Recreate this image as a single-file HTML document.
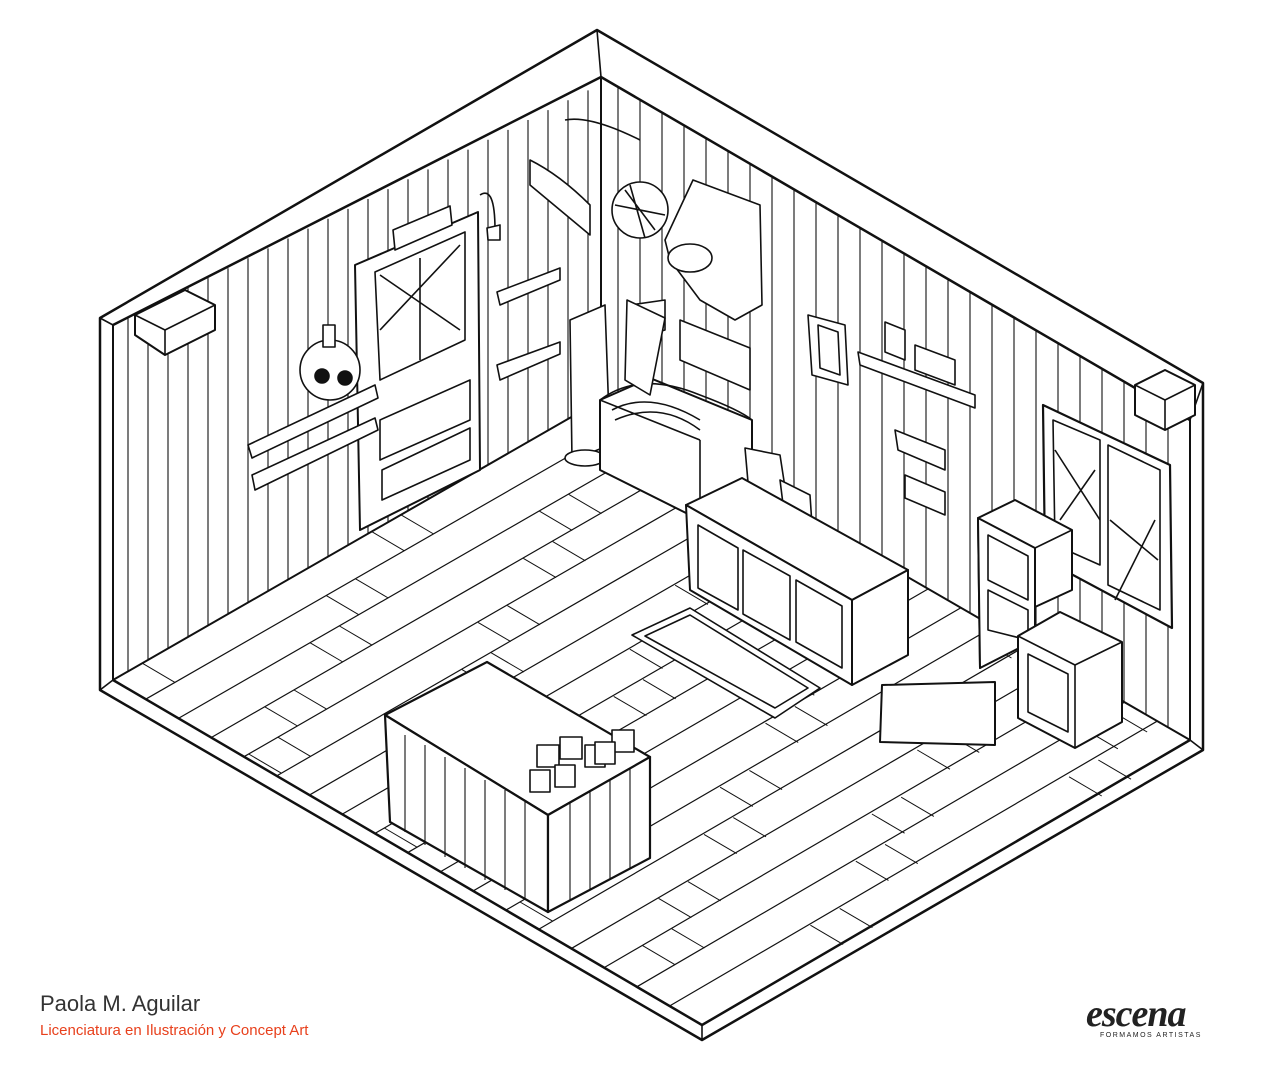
<!DOCTYPE html>
<html><head><meta charset="utf-8"><style>
html,body{margin:0;padding:0;background:#fff;width:1273px;height:1080px;overflow:hidden}
svg{position:absolute;left:0;top:0}
.t1{position:absolute;left:40px;top:991px;font:22px "Liberation Sans",sans-serif;color:#333}
.t2{position:absolute;left:40px;top:1022px;font:15px "Liberation Sans",sans-serif;color:#e8401c}
.lg{position:absolute;left:1086px;top:992px;font:italic bold 38px "Liberation Serif",serif;color:#222;letter-spacing:-1px}
.lg2{position:absolute;left:1100px;top:1032px;font:7px "Liberation Sans",sans-serif;color:#222;letter-spacing:1.5px}
</style></head><body>
<svg width="1273" height="1080" viewBox="0 0 1273 1080" fill="none" stroke="#111" stroke-width="1.6" stroke-linejoin="round">
<g id="planks" stroke-width="1.2"></g>
<polygon points="100,318 597,30 1203,383 1203,750 702,1040 100,690" fill="none" stroke-width="2.5"/>
<polyline points="113,680 702,1025 1190,740" stroke-width="2.5"/>
<polyline points="113,325 601,77 1190,420" stroke-width="2.5"/>
<line x1="113" y1="325" x2="113" y2="680" stroke-width="2"/>
<line x1="1190" y1="420" x2="1190" y2="740" stroke-width="2"/>
<line x1="702" y1="1025" x2="702" y2="1040"/>
<line x1="100" y1="318" x2="113" y2="325"/><line x1="597" y1="30" x2="601" y2="77"/><line x1="1203" y1="383" x2="1190" y2="420"/>
<line x1="100" y1="690" x2="113" y2="680"/><line x1="1203" y1="750" x2="1190" y2="740"/>
<line x1="601" y1="77" x2="601" y2="400" stroke-width="2"/>
<polyline points="113,680 601,400 1190,740" stroke-width="2"/>
<!-- beams (short stubs) -->
<polygon points="135,315 185,290 215,305 215,330 165,355 135,335" fill="#fff" stroke-width="2"/>
<line x1="165" y1="330" x2="215" y2="305"/><line x1="135" y1="315" x2="165" y2="330"/><line x1="165" y1="330" x2="165" y2="355"/>
<polygon points="1135,385 1165,370 1195,385 1195,415 1165,430 1135,415" fill="#fff" stroke-width="2"/>
<line x1="1135" y1="385" x2="1165" y2="400"/><line x1="1165" y1="400" x2="1195" y2="385"/><line x1="1165" y1="400" x2="1165" y2="430"/>
<!-- door -->
<polygon points="355,265 478,212 480,470 360,530" fill="#fff" stroke-width="2"/>
<polygon points="375,272 465,232 465,340 380,380" fill="#fff"/>
<path d="M380,275 L460,330 M380,330 L460,245 M420,258 L420,360"/>
<polygon points="380,420 470,380 470,420 380,460"/><polygon points="382,470 470,428 470,460 382,500"/>
<polygon points="393,230 450,206 452,225 395,250" fill="#fff"/>
<!-- skull shelf -->
<polygon points="248,445 375,385 378,398 252,458" fill="#fff"/>
<polygon points="252,475 375,418 378,430 255,490" fill="#fff"/>
<circle cx="330" cy="370" r="30" fill="#fff"/><circle cx="322" cy="376" r="7" fill="#111"/><circle cx="345" cy="378" r="7" fill="#111"/>
<rect x="323" y="325" width="12" height="22" fill="#fff"/>
<polygon points="497,292 560,268 560,280 500,305" fill="#fff"/>
<polygon points="497,365 560,342 560,354 500,380" fill="#fff"/>
<polygon points="570,320 605,305 610,445 572,460" fill="#fff"/>
<ellipse cx="585" cy="458" rx="20" ry="8" fill="#fff"/>
<circle cx="640" cy="210" r="28" fill="#fff"/>
<path d="M625 190 L655 230 M615 205 L665 215 M630 185 L645 238"/>
<polygon points="693,180 760,205 762,305 735,320 700,300 670,260 665,240" fill="#fff"/>
<ellipse cx="690" cy="258" rx="22" ry="14" fill="#fff"/>
<polygon points="680,320 750,348 750,390 680,360" fill="#fff"/>
<polygon points="630,305 665,300 665,330 628,340" fill="#fff"/>
<polygon points="808,315 845,325 848,385 812,375" fill="#fff"/>
<polygon points="818,325 838,332 840,375 820,368" />
<polygon points="858,352 975,395 975,408 860,365" fill="#fff"/>
<polygon points="915,345 955,360 955,385 915,370" fill="#fff"/>
<polygon points="885,322 905,330 905,360 885,352" fill="#fff"/>
<polygon points="895,430 945,450 945,470 898,450" fill="#fff"/>
<polygon points="905,475 945,492 945,515 905,498" fill="#fff"/>
<polygon points="1043,405 1170,465 1172,628 1045,560" fill="#fff" stroke-width="2.2"/>
<polygon points="1053,420 1100,440 1100,565 1055,545"/><polygon points="1108,445 1160,470 1160,610 1108,585"/>
<path d="M1055,450 L1100,520 M1110,520 L1158,560 M1060,520 L1095,470 M1115,600 L1155,520"/>
<polygon points="600,400 650,378 752,420 752,500 700,520 600,470" fill="#fff" stroke-width="2"/>
<path d="M600,400 Q640,370 700,395 Q740,410 752,420"/>
<line x1="700" y1="440" x2="700" y2="520"/><line x1="600" y1="400" x2="700" y2="440"/>
<path d="M612,410 Q650,390 700,420" /><path d="M615,420 Q660,400 700,430"/>
<polygon points="627,300 665,318 650,395 625,380" fill="#fff"/>
<polygon points="745,448 780,455 790,520 750,505" fill="#fff"/>
<polygon points="780,480 810,495 812,525 785,520" fill="#fff"/>
<polygon points="686,505 742,478 908,570 852,600" fill="#fff" stroke-width="2"/>
<polygon points="686,505 852,600 852,685 690,590" fill="#fff" stroke-width="2"/>
<polygon points="852,600 908,570 908,655 852,685" fill="#fff" stroke-width="2"/>
<polygon points="698,525 738,548 738,610 698,588"/><polygon points="743,550 790,576 790,640 743,614"/><polygon points="796,580 842,606 842,668 796,642"/>
<polygon points="632,635 690,608 820,688 775,718" fill="#fff"/>
<polygon points="645,636 690,615 808,688 775,708"/>
<polygon points="978,518 1015,500 1072,530 1072,590 1035,607 980,668" fill="#fff" stroke-width="2"/>
<polygon points="978,518 1035,548 1035,640 980,668" fill="#fff" stroke-width="2"/>
<line x1="1035" y1="548" x2="1072" y2="530"/>
<polygon points="988,535 1028,556 1028,600 988,580"/><polygon points="988,590 1028,610 1028,640 988,630"/>
<polygon points="1018,636 1060,612 1122,642 1122,722 1075,748 1018,718" fill="#fff" stroke-width="2"/>
<polyline points="1018,636 1075,665 1122,642"/><line x1="1075" y1="665" x2="1075" y2="748"/>
<polygon points="1028,654 1068,674 1068,732 1028,712"/>
<polygon points="882,685 995,682 995,745 880,742" fill="#fff" stroke-width="2"/>
<polygon points="385,715 487,662 650,757 548,815" fill="#fff" stroke-width="2.2"/>
<polygon points="385,715 548,815 548,912 390,822" fill="#fff" stroke-width="2.2"/>
<polygon points="548,815 650,757 650,858 548,912" fill="#fff" stroke-width="2.2"/>
<g stroke-width="1.1">
<line x1="405" y1="735" x2="405" y2="832"/><line x1="425" y1="745" x2="425" y2="845"/><line x1="445" y1="757" x2="445" y2="857"/><line x1="465" y1="768" x2="465" y2="868"/><line x1="485" y1="780" x2="485" y2="880"/><line x1="505" y1="790" x2="505" y2="890"/><line x1="525" y1="802" x2="525" y2="900"/>
<line x1="570" y1="803" x2="570" y2="900"/><line x1="590" y1="792" x2="590" y2="890"/><line x1="610" y1="780" x2="610" y2="880"/><line x1="630" y1="768" x2="630" y2="868"/>
</g>
<g fill="#fff">
<rect x="537" y="745" width="22" height="22"/><rect x="560" y="737" width="22" height="22"/><rect x="585" y="745" width="20" height="22"/><rect x="612" y="730" width="22" height="22"/><rect x="530" y="770" width="20" height="22"/><rect x="555" y="765" width="20" height="22"/><rect x="595" y="742" width="20" height="22"/>
</g>
<path d="M480,195 Q495,185 495,230"/><polygon points="487,228 500,225 500,240 488,240" fill="#fff"/>
<path d="M530,160 Q560,175 590,205 L590,235 L530,185 Z" fill="#fff"/>
<path d="M565,120 Q590,115 640,140"/>
</svg>
<div class="t1">Paola M. Aguilar</div>
<div class="t2">Licenciatura en Ilustración y Concept Art</div>
<div class="lg">escena</div>
<div class="lg2">FORMAMOS ARTISTAS</div>
<script>
var g=document.getElementById('planks'),s='';
function L(a,b,c,d,w){s+='<line x1="'+a+'" y1="'+b+'" x2="'+c+'" y2="'+d+'"'+(w?' stroke-width="'+w+'"':'')+'/>';}
for(var k=1;k<18;k++){L(113+32.7*k,680+19.2*k,601+32.7*k,400+18.9*k);}
for(var k=0;k<18;k++){for(var j=0;j<4;j++){var t=((k*37+j*53)%100)/100;var x1=113+32.7*k,y1=680+19.2*k;var x=x1+488*t,y=y1-280*t;L(x,y,x+32.7,y+19.2,1);}}
for(var x=128;x<595;x+=20){L(x,325-(x-113)*0.494,x,680-(x-113)*0.574,1.1);}
for(var x=618;x<1185;x+=22){L(x,77+(x-601)*0.582,x,400+(x-601)*0.577,1.1);}
g.innerHTML=s;
</script>
</body></html>
